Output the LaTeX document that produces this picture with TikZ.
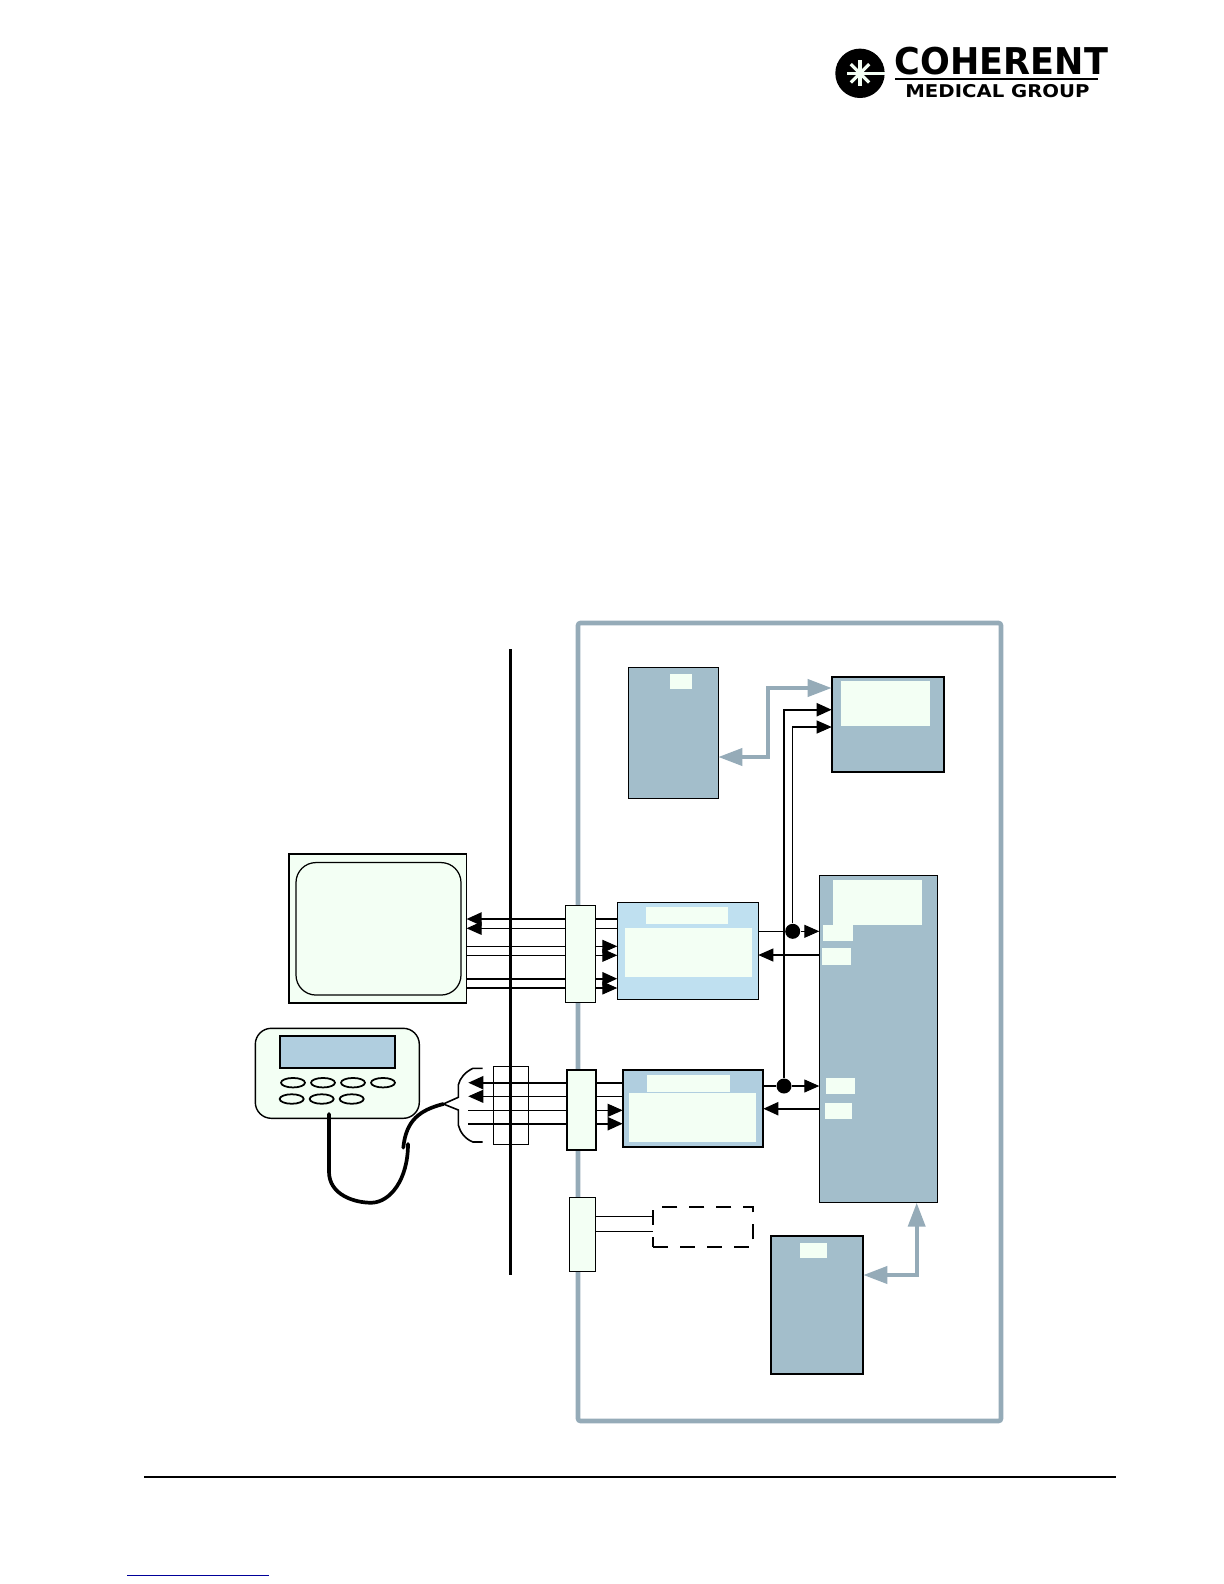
\documentclass[tikz,border=0pt]{standalone}
\usepackage{fontspec}
\setsansfont{DejaVu Sans}
\usetikzlibrary{positioning,arrows.meta,shapes.geometric}
\definecolor{mint}{HTML}{F3FFF4}
\definecolor{slate}{HTML}{A3BECB}
\definecolor{slateline}{HTML}{95ABB8}
\definecolor{skyfill}{HTML}{BFE0F0}
\definecolor{panelfill}{HTML}{B0CEDF}

\begin{document}
\begin{tikzpicture}[
  boxbase/.style={draw=black, line width=0.35pt, inner sep=0pt, outer sep=0pt},
  unit/.style={boxbase, fill=slate},
  unitheavy/.style={unit, line width=0.6pt},
  patch/.style={fill=mint, inner sep=0pt, outer sep=0pt},
  plugbox/.style={boxbase, fill=mint},
  keycap/.style={ellipse, draw=black, line width=0.5pt, fill=mint, inner sep=0pt,
                 minimum width=0.24cm, minimum height=0.095cm},
  wire/.style={line width=0.3pt, black},
  wirethick/.style={line width=0.6pt, black},
  sig/.style={wire, -{Triangle[length=0.15cm, width=0.13cm]}},
  sigthick/.style={wirethick, -{Triangle[length=0.15cm, width=0.13cm]}},
  duct/.style={line width=1.1pt, slateline,
               {Triangle[length=0.24cm, width=0.17cm]}-{Triangle[length=0.24cm, width=0.17cm]}},
  junction/.style={circle, fill=black, minimum size=0.15cm, inner sep=0pt},
  cable/.style={line width=1.05pt, black, line cap=round},
  spoke/.style={line width=0.9pt, mint},
]
\useasboundingbox (0,0) rectangle (12.24,-15.84);

% Logo
\node[circle, fill=black, minimum size=0.494cm, inner sep=0pt, outer sep=0pt] (disc) at (8.6,-0.733) {};
\draw[spoke] (disc.center) -- (disc.east);
\draw[spoke] (disc.center) -- ++(180:0.13);
\draw[spoke] (disc.center) -- ++(90:0.13);
\draw[spoke] (disc.center) -- ++(270:0.13);
\draw[spoke] (disc.center) -- ++(45:0.13);
\draw[spoke] (disc.center) -- ++(135:0.13);
\draw[spoke] (disc.center) -- ++(225:0.13);
\draw[spoke] (disc.center) -- ++(315:0.13);
\node[font=\sffamily\bfseries\fontsize{10.5}{10.5}\selectfont, xscale=0.95, transform shape, inner sep=0pt] (brand) at (10.015,-0.615) {COHERENT};
\node[font=\sffamily\bfseries\fontsize{5}{5}\selectfont, xscale=1.12, transform shape, inner sep=0pt] (group) at (9.975,-0.915) {MEDICAL GROUP};
\coordinate (ruleleft) at (8.95,-0.787);
\coordinate (ruleright) at (10.98,-0.787);
\draw[line width=0.5pt] (ruleleft) -- (ruleright);

% Outer enclosure and wall line
\node[draw=slateline, line width=1.3pt, rounded corners=0.7pt, inner sep=0pt, outer sep=0pt,
      minimum width=4.23cm, minimum height=7.98cm] (frame) at (7.895,-10.22) {};
\coordinate (walltop) at (5.107,-6.49);
\coordinate (wallbot) at (5.107,-12.745);
\draw[line width=0.85pt] (walltop) -- (wallbot);

% Top row: two units
\node[unit, minimum width=0.90cm, minimum height=1.31cm] (dspa) at (6.733,-7.328) {};
\node[patch, minimum width=0.22cm, minimum height=0.153cm] (dspalabel) at (6.81,-6.817) {};
\node[unitheavy, minimum width=1.126cm, minimum height=0.956cm] (pump) at (8.88,-7.245) {};
\node[patch, minimum width=0.89cm, minimum height=0.45cm] (pumplabel) at (8.855,-7.035) {};

% Main board on the right, with its patches
\node[unit, minimum width=1.18cm, minimum height=3.274cm] (board) at (8.783,-10.39) {};
\node[patch, minimum width=0.893cm, minimum height=0.45cm] (boardtitle) at (8.774,-9.025) {};
\node[patch, minimum width=0.303cm, minimum height=0.16cm] (pa) at (8.379,-9.33) {};
\node[patch, minimum width=0.293cm, minimum height=0.17cm] (pb) at (8.364,-9.565) {};
\node[patch, minimum width=0.29cm, minimum height=0.16cm] (pc) at (8.405,-10.86) {};
\node[patch, minimum width=0.27cm, minimum height=0.16cm] (pd) at (8.385,-11.11) {};

% Middle row: display driver
\node[boxbase, fill=skyfill, minimum width=1.41cm, minimum height=0.97cm] (drva) at (6.878,-9.508) {};
\node[patch, minimum width=0.82cm, minimum height=0.167cm] (drvatitle) at (6.87,-9.153) {};
\node[patch, minimum width=1.27cm, minimum height=0.487cm] (drvabody) at (6.885,-9.523) {};
\node[plugbox, minimum width=0.304cm, minimum height=0.97cm] (pluga) at (5.805,-9.538) {};

% Lower row: keypad driver
\node[boxbase, line width=0.6pt, fill=panelfill, minimum width=1.406cm, minimum height=0.764cm] (drvb) at (6.93,-11.085) {};
\node[patch, minimum width=0.83cm, minimum height=0.167cm] (drvbtitle) at (6.885,-10.833) {};
\node[patch, minimum width=1.27cm, minimum height=0.487cm] (drvbbody) at (6.925,-11.173) {};
\node[plugbox, line width=0.5pt, minimum width=0.29cm, minimum height=0.797cm] (plugb) at (5.812,-11.10) {};

% Spare plug, dashed option and bottom unit
\node[plugbox, minimum width=0.26cm, minimum height=0.74cm] (plugc) at (5.823,-12.343) {};
\node[draw=black, line width=0.6pt, dash pattern=on 0.15cm off 0.12cm, inner sep=0pt, outer sep=0pt,
      minimum width=1.003cm, minimum height=0.397cm] (option) at (7.032,-12.272) {};
\node[unitheavy, minimum width=0.926cm, minimum height=1.38cm] (dspb) at (8.17,-13.047) {};
\node[patch, minimum width=0.27cm, minimum height=0.15cm] (dspblabel) at (8.135,-12.505) {};

% Monitor
\node[boxbase, fill=mint, minimum width=1.775cm, minimum height=1.49cm] (monitor) at (3.778,-9.285) {};
\node[boxbase, fill=mint, rounded corners=0.2cm, minimum width=1.65cm, minimum height=1.325cm] (screen) at (3.785,-9.288) {};

% Hand terminal
\node[boxbase, line width=0.4pt, fill=mint, rounded corners=0.16cm, minimum width=1.64cm, minimum height=0.90cm] (pad) at (3.373,-10.733) {};
\node[boxbase, line width=0.6pt, fill=panelfill, minimum width=1.156cm, minimum height=0.317cm] (paddisplay) at (3.375,-10.522) {};
\node[keycap] (ka) at (2.93,-10.827) {};
\node[keycap] (kb) at (3.23,-10.827) {};
\node[keycap] (kc) at (3.53,-10.827) {};
\node[keycap] (kd) at (3.83,-10.827) {};
\node[keycap] (ke) at (2.917,-10.99) {};
\node[keycap] (kf) at (3.217,-10.99) {};
\node[keycap] (kg) at (3.517,-10.99) {};

% Hand terminal cable, split in two
\coordinate (cablea) at (3.29,-11.14);
\coordinate (cableb) at (3.29,-11.717);
\coordinate (cablec) at (3.72,-12.027);
\coordinate (cabled) at (4.08,-11.44);
\coordinate (cablee) at (4.033,-11.477);
\coordinate (apex) at (4.433,-11.04);
\draw[cable] (cablea) -- (cableb) .. controls (3.29,-11.95) and (3.55,-12.03) .. (cablec)
  .. controls (3.9,-12.02) and (4.08,-11.8) .. (cabled);
\draw[cable] (cablee) .. controls (4.06,-11.2) and (4.2,-11.1) .. (apex);

% Brace towards the lines
\coordinate (fanup) at (4.827,-10.683);
\coordinate (fandown) at (4.827,-11.42);
\coordinate (plug) at (4.683,-11.05);
\draw[line width=0.45pt] (apex) -- (4.583,-10.973) -- (4.583,-10.85) .. controls (4.6,-10.78) and (4.65,-10.72) .. (4.73,-10.683) -- (fanup);
\draw[line width=0.45pt] (apex) -- (4.583,-11.10) -- (4.583,-11.25) .. controls (4.6,-11.32) and (4.65,-11.39) .. (4.73,-11.42) -- (fandown);

% Monitor lines
\draw[sigthick] (pluga.west |- 0,-9.19) -- (monitor.east |- 0,-9.19);
\draw[sig] (pluga.west |- 0,-9.283) -- (monitor.east |- 0,-9.283);
\draw[wire] (monitor.east |- 0,-9.463) -- (pluga.west |- 0,-9.463);
\draw[wire] (monitor.east |- 0,-9.553) -- (pluga.west |- 0,-9.553);
\draw[wirethick] (monitor.east |- 0,-9.787) -- (pluga.west |- 0,-9.787);
\draw[wire] (monitor.east |- 0,-9.88) -- (pluga.west |- 0,-9.88);
\draw[wirethick] (pluga.east |- 0,-9.19) -- (drva.west |- 0,-9.19);
\draw[wire] (pluga.east |- 0,-9.283) -- (drva.west |- 0,-9.283);
\draw[sig] (pluga.east |- 0,-9.463) -- (drva.west |- 0,-9.463);
\draw[sig] (pluga.east |- 0,-9.553) -- (drva.west |- 0,-9.553);
\draw[sigthick] (pluga.east |- 0,-9.787) -- (drva.west |- 0,-9.787);
\draw[sig] (pluga.east |- 0,-9.88) -- (drva.west |- 0,-9.88);

% Hand terminal lines, and the strip they cross
\node[draw=black, line width=0.3pt, inner sep=0pt, outer sep=0pt, minimum width=0.35cm, minimum height=0.78cm] (strip) at (5.108,-11.053) {};
\draw[sigthick] (plugb.west |- 0,-10.827) -- (plug |- 0,-10.827);
\draw[sig] (plugb.west |- 0,-10.963) -- (plug |- 0,-10.963);
\draw[wire] (plug |- 0,-11.103) -- (plugb.west |- 0,-11.103);
\draw[wirethick] (plug |- 0,-11.237) -- (plugb.west |- 0,-11.237);
\draw[wirethick] (plugb.east |- 0,-10.827) -- (drvb.west |- 0,-10.827);
\draw[wire] (plugb.east |- 0,-10.963) -- (drvb.west |- 0,-10.963);
\draw[sig] (plugb.east |- 0,-11.103) -- (drvb.west |- 0,-11.103);
\draw[sigthick] (plugb.east |- 0,-11.237) -- (drvb.west |- 0,-11.237);

% Spare plug lines
\draw[wire] (plugc.east |- 0,-12.163) -- (option.west |- 0,-12.163);
\draw[wire] (plugc.east |- 0,-12.313) -- (option.west |- 0,-12.313);

% Board links and the two junctions
\node[junction] (joina) at (7.927,-9.313) {};
\node[junction] (joinb) at (7.84,-10.86) {};
\draw[wire] (drva.east |- joina) -- (joina);
\draw[sig] (joina) -- (board.west |- joina);
\draw[sig] (board.west |- 0,-9.55) -- (drva.east |- 0,-9.55);
\draw[wire] (drvb.east |- joinb) -- (joinb);
\draw[sig] (joinb) -- (board.west |- joinb);
\draw[sigthick] (board.west |- 0,-11.087) -- (drvb.east |- 0,-11.087);
\draw[sig] (joina) |- (pump.west |- 0,-7.27);
\draw[sigthick] (joinb) |- (pump.west |- 0,-7.097);

% Grey double arrows
\coordinate (bendup) at (7.683,-7.57);
\draw[duct] (dspa.east |- bendup) -- (bendup) |- (pump.west |- 0,-6.88);
\draw[duct] (dspb.east |- 0,-12.75) -| (board.south -| 9.167,0);

% Footer
\coordinate (footleft) at (1.44,-14.767);
\coordinate (footright) at (11.16,-14.767);
\draw[line width=0.55pt] (footleft) -- (footright);
\coordinate (linkleft) at (1.27,-15.753);
\coordinate (linkright) at (2.69,-15.753);
\draw[line width=0.3pt, blue!60!black] (linkleft) -- (linkright);

\end{tikzpicture}
\end{document}
